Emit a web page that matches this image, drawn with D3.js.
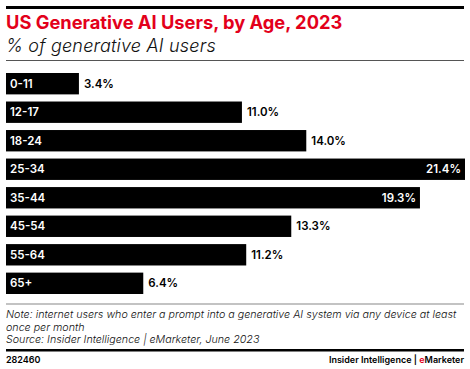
<!DOCTYPE html>
<html><head><meta charset="utf-8">
<script src="https://cdn.jsdelivr.net/npm/d3@7"></script>
<style>body{margin:0;background:#fff}svg{display:block}</style>
</head><body>
<script>
const categories = ["0-11","12-17","18-24","25-34","35-44","45-54","55-64","65+"];
const values = [3.4,11.0,14.0,21.4,19.3,13.3,11.2,6.4];
const title = "US Generative AI Users, by Age, 2023";
const subtitle = "% of generative AI users";
const noteLines = ["Note: internet users who enter a prompt into a generative AI system via any device at least","once per month","Source: Insider Intelligence | eMarketer, June 2023"];
const chartId = "282460";

const W = 470, H = 369;
const svg = d3.select("body").append("svg").attr("width", W).attr("height", H);
const font = "Inter, 'Open Sans', sans-serif";

svg.append("rect").attr("x",6).attr("y",6).attr("width",458).attr("height",3).attr("fill","#000");
svg.append("text").attr("x",6).attr("y",29).text(title)
  .attr("font-family",font).attr("font-weight",700).attr("font-size",18.3).attr("fill","#e3001b");
svg.append("text").attr("x",6).attr("y",51.5).text(subtitle)
  .attr("font-family",font).attr("font-style","italic").attr("font-weight",300).attr("font-size",18).attr("letter-spacing",0.2).attr("fill","#111");
svg.append("rect").attr("x",6).attr("y",60).attr("width",458).attr("height",1).attr("fill","#555");

const x = d3.scaleLinear().domain([0, d3.max(values)]).range([6, 465]);
const y = d3.scaleBand().domain(categories).range([73, 294]).paddingInner(0.25).paddingOuter(0);

const data = categories.map((c,i)=>({c, v: values[i]}));
const g = svg.append("g");
g.selectAll("rect.bar").data(data).join("rect").attr("class","bar")
  .attr("x", x(0)).attr("y", d=>y(d.c)).attr("width", d=>x(d.v)-x(0)).attr("height", y.bandwidth())
  .attr("fill","#000");
g.selectAll("text.cat").data(data).join("text").attr("class","cat")
  .attr("x", x(0)+4).attr("y", d=>y(d.c)+y.bandwidth()/2+4)
  .text(d=>d.c).attr("font-family",font).attr("font-weight",600).attr("font-size",11.5).attr("fill","#fff");
g.selectAll("text.val").data(data).join("text").attr("class","val")
  .attr("x", d=> d.v > 18 ? x(d.v)-4 : x(d.v)+5)
  .attr("text-anchor", d=> d.v > 18 ? "end" : "start")
  .attr("y", d=>y(d.c)+y.bandwidth()/2+4)
  .text(d=>d.v.toFixed(1)+"%").attr("font-family",font).attr("font-weight",600).attr("font-size",11.5)
  .attr("fill", d=> d.v > 18 ? "#fff" : "#000");

svg.append("rect").attr("x",6).attr("y",303.5).attr("width",458).attr("height",1).attr("fill","#888");
noteLines.forEach((t,i)=>{
  svg.append("text").attr("x",6).attr("y",318+i*12.6).text(t)
    .attr("font-family",font).attr("font-style","italic").attr("font-weight",300).attr("font-size",10.7).attr("fill","#111");
});
svg.append("rect").attr("x",6).attr("y",349).attr("width",458).attr("height",2.5).attr("fill","#000");
svg.append("text").attr("x",6).attr("y",363).text(chartId)
  .attr("font-family",font).attr("font-weight",600).attr("font-size",9).attr("fill","#000");
const brand = svg.append("text").attr("x",464).attr("y",363).attr("text-anchor","end")
  .attr("font-family",font).attr("font-weight",600).attr("font-size",9).attr("fill","#000");
brand.append("tspan").text("Insider Intelligence | ");
brand.append("tspan").text("e").attr("fill","#e3001b");
brand.append("tspan").text("Marketer");
</script>
</body></html>
